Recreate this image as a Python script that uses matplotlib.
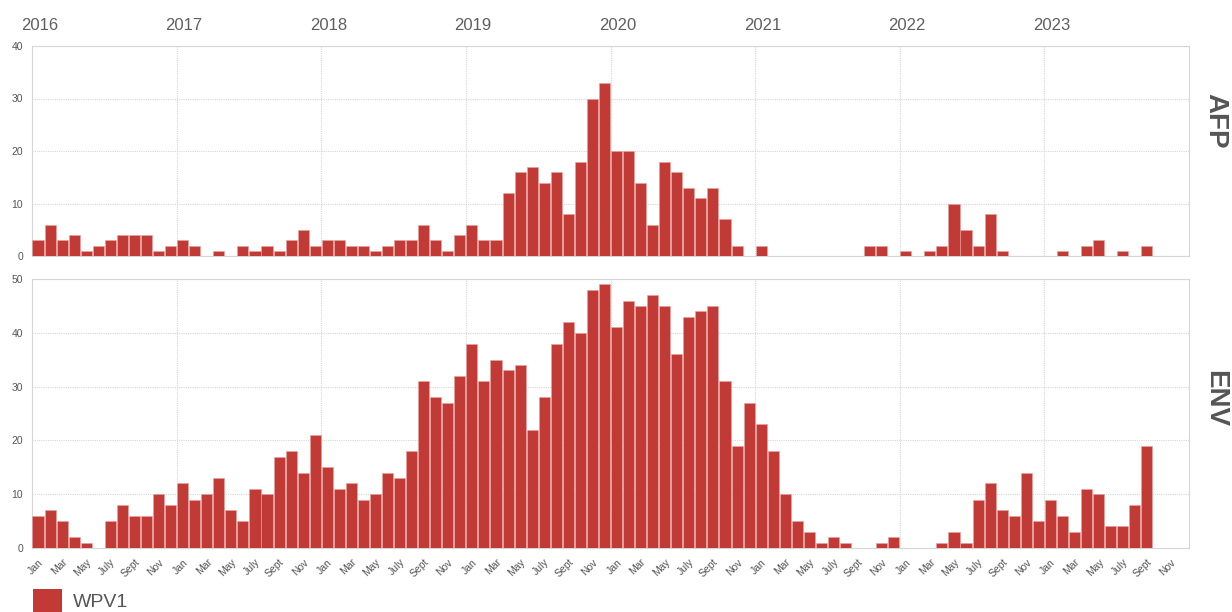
import numpy as np
import matplotlib.pyplot as plt
from matplotlib.patches import Patch

plt.rcParams['font.family'] = ['Liberation Sans', 'DejaVu Sans']

years = [2016, 2017, 2018, 2019, 2020, 2021, 2022, 2023]
month_names = ['Jan', 'Feb', 'Mar', 'Apr', 'May', 'June',
               'July', 'Aug', 'Sept', 'Oct', 'Nov', 'Dec']

# monthly WPV1 counts, Jan 2016 .. Dec 2023
afp = [3, 6, 3, 4, 1, 2, 3, 4, 4, 4, 1, 2,
       3, 2, 0, 1, 0, 2, 1, 2, 1, 3, 5, 2,
       3, 3, 2, 2, 1, 2, 3, 3, 6, 3, 1, 4,
       6, 3, 3, 12, 16, 17, 14, 16, 8, 18, 30, 33,
       20, 20, 14, 6, 18, 16, 13, 11, 13, 7, 2, 0,
       2, 0, 0, 0, 0, 0, 0, 0, 0, 2, 2, 0,
       1, 0, 1, 2, 10, 5, 2, 8, 1, 0, 0, 0,
       0, 1, 0, 2, 3, 0, 1, 0, 2, 0, 0, 0]

env = [6, 7, 5, 2, 1, 0, 5, 8, 6, 6, 10, 8,
       12, 9, 10, 13, 7, 5, 11, 10, 17, 18, 14, 21,
       15, 11, 12, 9, 10, 14, 13, 18, 31, 28, 27, 32,
       38, 31, 35, 33, 34, 22, 28, 38, 42, 40, 48, 49,
       41, 46, 45, 47, 45, 36, 43, 44, 45, 31, 19, 27,
       23, 18, 10, 5, 3, 1, 2, 1, 0, 0, 1, 2,
       0, 0, 0, 1, 3, 1, 9, 12, 7, 6, 14, 5,
       9, 6, 3, 11, 10, 4, 4, 8, 19, 0, 0, 0]

panels = ['AFP', 'ENV']
ymax = [40, 50]
bar_color = '#c23a35'
grid_color = '#d6d6d6'

W, H = 1232, 612
fig = plt.figure(figsize=(W / 100, H / 100), dpi=100)
ax1 = fig.add_axes([32 / W, 1 - 256 / H, (1189 - 32) / W, 210 / H])
ax2 = fig.add_axes([32 / W, 1 - 548 / H, (1189 - 32) / W, 269 / H])

n = len(afp)
x = np.arange(n) + 0.5

for ax, data, top in zip([ax1, ax2], [afp, env], ymax):
    bars = ax.bar(x, data, width=0.92, color=bar_color,
                  edgecolor='#e7a3a0', linewidth=0.4, zorder=3)
    ax.set_xlim(0, n)
    ax.set_ylim(0, top)
    ax.set_yticks(np.arange(0, top + 1, 10))
    ax.set_xticks(np.arange(12, n, 12), minor=True)
    ax.grid(True, axis='y', color=grid_color, linewidth=0.8, linestyle=(0, (1, 1)), zorder=0)
    ax.grid(True, axis='x', which='minor', color=grid_color, linewidth=0.8,
            linestyle=(0, (1, 1)), zorder=0)
    ax.tick_params(axis='y', length=0, pad=6.5, labelsize=7.5, labelcolor='#555555')
    ax.tick_params(axis='x', which='both', length=0)
    for s in ax.spines.values():
        s.set_color(grid_color)
        s.set_linewidth(0.8)

ax1.set_xticks([])

# month ticks every second month on the lower panel
tick_idx = np.arange(0, n, 2)
ax2.set_xticks(x[tick_idx])
ax2.set_xticklabels([month_names[i % 12] for i in tick_idx], rotation=45,
                    ha='right', rotation_mode='anchor', fontsize=7.5, color='#555555')
ax2.tick_params(axis='x', pad=6.5)

# year labels above the top panel
for k, yr in enumerate(years):
    ax1.text(12 * k + 0.6, 1.10, str(yr), transform=ax1.get_xaxis_transform(),
             ha='center', va='center', fontsize=12, color='#5f5f5f')

fig.text(1215 / W, 1 - 121 / H, panels[0], rotation=-90, ha='center', va='center',
         fontsize=20, fontweight='bold', color='#555555')
fig.text(1215 / W, 1 - 398 / H, panels[1], rotation=-90, ha='center', va='center',
         fontsize=20, fontweight='bold', color='#555555')

fig.legend(handles=[Patch(facecolor=bar_color)], labels=['WPV1'], loc='upper left',
           bbox_to_anchor=(33 / W, 1 - 589 / H), frameon=False, fontsize=14,
           handlelength=1.5, handleheight=1.5, handletextpad=0.55,
           borderpad=0, borderaxespad=0, labelcolor='#555555')

fig.savefig('out.png', dpi=100)
